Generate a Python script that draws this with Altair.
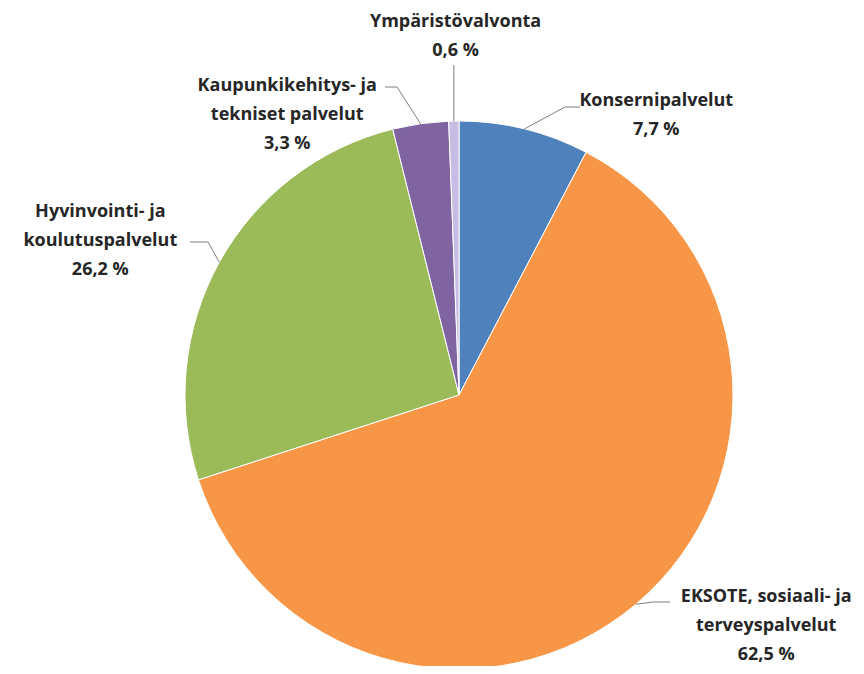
import math
import altair as alt
import pandas as pd

# ---- data ----
categories = [
    "Konsernipalvelut",
    "EKSOTE, sosiaali- ja terveyspalvelut",
    "Hyvinvointi- ja koulutuspalvelut",
    "Kaupunkikehitys- ja tekniset palvelut",
    "Ympäristövalvonta",
]
label_lines = [
    ["Konsernipalvelut"],
    ["EKSOTE, sosiaali- ja", "terveyspalvelut"],
    ["Hyvinvointi- ja", "koulutuspalvelut"],
    ["Kaupunkikehitys- ja", "tekniset palvelut"],
    ["Ympäristövalvonta"],
]
shares = [7.7, 62.5, 26.2, 3.3, 0.6]
colors = ["#4F81BD", "#F79646", "#9BBB59", "#8064A2", "#C6BCE4"]

# ---- layout (pixels, chart coordinates) ----
W, H = 848, 658
CX, CY, R = 451, 387, 274
LABEL_R = 290
label_offsets = [(128, -12), (120, -20), (-105, -42), (-131, -22), (2, -83)]
leader_tail = [
    [(557, 99), (572, 99)],
    [(645, 594), (662, 594)],
    [(200, 234), (182, 234)],
    [(389, 79), (377, 79)],
    None,
]

total = sum(shares)
starts, ends, mids = [], [], []
acc = 0.0
for v in shares:
    starts.append(acc)
    ends.append(acc + v)
    mids.append(acc + v / 2)
    acc += v


def pct(v):
    return f"{v:.1f}".replace(".", ",") + " %"


df = pd.DataFrame({
    "idx": list(range(len(categories))),
    "cat": categories,
    "value": shares,
    "start": starts,
    "end": ends,
    "mid": mids,
    "label": ["\n".join(lines + [pct(v)]) for lines, v in zip(label_lines, shares)],
})

# leader lines: from slice edge (at mid angle) to elbow and label
rows = []
for i, m in enumerate(mids):
    a = m / total * 2 * math.pi
    ex = CX + R * math.sin(a)
    ey = CY - R * math.cos(a)
    pts = [(ex, ey)]
    if leader_tail[i] is None:
        pts.append((ex, 57))
    else:
        pts.extend(leader_tail[i])
    for k, (px, py) in enumerate(pts):
        rows.append({"cat": categories[i], "k": k, "px": px, "py": py})
lead_df = pd.DataFrame(rows)

theta_scale = alt.Scale(domain=[0, total], range=[0, 2 * math.pi])

pie = alt.Chart(df).mark_arc(radius=R, stroke="white", strokeWidth=1).encode(
    theta=alt.Theta("start:Q", scale=theta_scale),
    theta2="end:Q",
    color=alt.Color("cat:N", scale=alt.Scale(domain=categories, range=colors), legend=None),
    x=alt.value(CX),
    y=alt.value(CY),
)

leaders = alt.Chart(lead_df).mark_line(color="#7F7F7F", strokeWidth=1).encode(
    x=alt.X("px:Q", scale=None, axis=None),
    y=alt.Y("py:Q", scale=None, axis=None),
    detail="cat:N",
    order="k:Q",
)

texts = []
for i, (dx, dy) in enumerate(label_offsets):
    t = alt.Chart(df).transform_filter(alt.datum.idx == i).mark_text(
        radius=LABEL_R,
        dx=dx,
        dy=dy,
        align="center",
        baseline="middle",
        lineBreak="\n",
        lineHeight=29,
        font="Open Sans",
        fontWeight="bold",
        fontSize=18,
        color="#262626",
    ).encode(
        theta=alt.Theta("mid:Q", scale=theta_scale),
        text="label:N",
        x=alt.value(CX),
        y=alt.value(CY),
    )
    texts.append(t)

chart = alt.layer(pie, leaders, *texts).properties(
    width=W,
    height=H,
    autosize=alt.AutoSizeParams(type="none"),
    padding=0,
).configure_view(stroke=None)

chart.save("out.html", embed_options={"renderer": "svg", "actions": False})
